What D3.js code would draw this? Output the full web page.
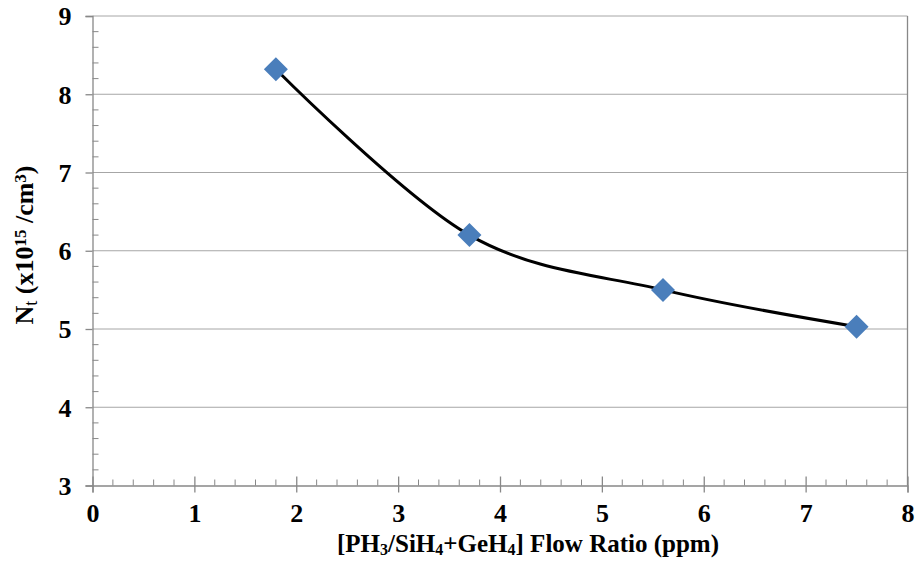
<!DOCTYPE html>
<html><head><meta charset="utf-8">
<script src="https://cdn.jsdelivr.net/npm/d3@7"></script>
<style>body{margin:0;background:#fff}svg{display:block}</style>
</head><body>
<svg id="c" width="915" height="562"></svg>
<script>
const flowRatio = [1.8, 3.7, 5.6, 7.5];
const ntValues = [8.32, 6.20, 5.50, 5.03];
const xTicks = [0,1,2,3,4,5,6,7,8];
const yTicks = [3,4,5,6,7,8,9];

const svg = d3.select("#c");
const L = 92.5, R = 907.5, T = 16, B = 485.5;
const x = d3.scaleLinear().domain([0,8]).range([L,R]);
const y = d3.scaleLinear().domain([3,9]).range([B,T]);
const axisCol = "#888";
const font = "'Liberation Serif', 'Times New Roman', serif";

// gridlines
svg.append("g").selectAll("line").data(yTicks.filter(d=>d>3)).join("line")
  .attr("x1",L).attr("x2",R).attr("y1",d=>y(d)).attr("y2",d=>y(d))
  .attr("stroke","#a6a6a6").attr("stroke-width",1);
// right border
svg.append("line").attr("x1",R).attr("x2",R).attr("y1",T).attr("y2",B).attr("stroke",axisCol).attr("stroke-width",1.3);

// minor ticks
const xMinor = d3.range(0,8.0001,0.2).filter(v=>Math.abs(v-Math.round(v))>1e-6);
svg.append("g").selectAll("line").data(xMinor).join("line")
  .attr("x1",d=>x(d)).attr("x2",d=>x(d)).attr("y1",B-6).attr("y2",B)
  .attr("stroke",axisCol).attr("stroke-width",1);
const yMinor = d3.range(3,9.0001,0.2).filter(v=>Math.abs(v-Math.round(v))>1e-6);
svg.append("g").selectAll("line").data(yMinor).join("line")
  .attr("x1",L).attr("x2",L+6).attr("y1",d=>y(d)).attr("y2",d=>y(d))
  .attr("stroke",axisCol).attr("stroke-width",1);

// axes
const xAxis = d3.axisBottom(x).tickValues(xTicks).tickSize(7).tickFormat(d3.format("d"));
const gx = svg.append("g").attr("transform",`translate(0,${B})`).call(xAxis);
const yAxis = d3.axisLeft(y).tickValues(yTicks).tickSize(7).tickFormat(d3.format("d"));
const gy = svg.append("g").attr("transform",`translate(${L},0)`).call(yAxis);
[gx,gy].forEach(g=>{
  g.attr("font-size",null).attr("font-family",null);
  g.select(".domain").attr("stroke",axisCol).attr("stroke-width",1.3);
  g.selectAll(".tick line").attr("stroke",axisCol).attr("stroke-width",1.3);
  g.selectAll(".tick text").attr("fill","#000").style("font-family",font)
    .style("font-size","26px").style("font-weight","bold");
});
gx.selectAll(".tick line").attr("y1",-9);
gx.selectAll(".tick text").attr("y",36.5).attr("dy",0);
gy.selectAll(".tick line").attr("x1",-7).attr("x2",0);
gy.selectAll(".tick text").attr("x",-21).attr("dy","0.34em");

// smooth curve
const pts = flowRatio.map((v,i)=>[v,ntValues[i]]);
const line = d3.line().x(d=>x(d[0])).y(d=>y(d[1])).curve(d3.curveCatmullRom.alpha(0));
svg.append("path").datum(pts).attr("d",line).attr("fill","none")
  .attr("stroke","#000").attr("stroke-width",3);

// markers
svg.append("g").selectAll("path").data(pts).join("path")
  .attr("transform",d=>`translate(${x(d[0])},${y(d[1])})`)
  .attr("d","M0,-12L12,0L0,12L-12,0Z").attr("fill","#4a7ebb");

// x label
const xl = svg.append("text").attr("x",528).attr("y",552).attr("text-anchor","middle")
  .style("font-family",font).style("font-size","25px").style("font-weight","bold");
xl.append("tspan").text("[PH");
xl.append("tspan").attr("baseline-shift","-18%").style("font-size","16px").text("3");
xl.append("tspan").text("/SiH");
xl.append("tspan").attr("baseline-shift","-18%").style("font-size","16px").text("4");
xl.append("tspan").text("+GeH");
xl.append("tspan").attr("baseline-shift","-18%").style("font-size","16px").text("4");
xl.append("tspan").text("] Flow Ratio (ppm)");

// y label
const yl = svg.append("text").attr("transform","translate(33,245) rotate(-90)").attr("text-anchor","middle")
  .style("font-family",font).style("font-size","26px").style("font-weight","bold");
yl.append("tspan").text("N");
yl.append("tspan").attr("baseline-shift","-22%").style("font-size","18px").style("font-weight","normal").text("t");
yl.append("tspan").text(" (x10");
yl.append("tspan").attr("baseline-shift","40%").style("font-size","17px").text("15");
yl.append("tspan").text(" /cm");
yl.append("tspan").attr("baseline-shift","40%").style("font-size","17px").text("3");
yl.append("tspan").text(")");
</script>
</body></html>
